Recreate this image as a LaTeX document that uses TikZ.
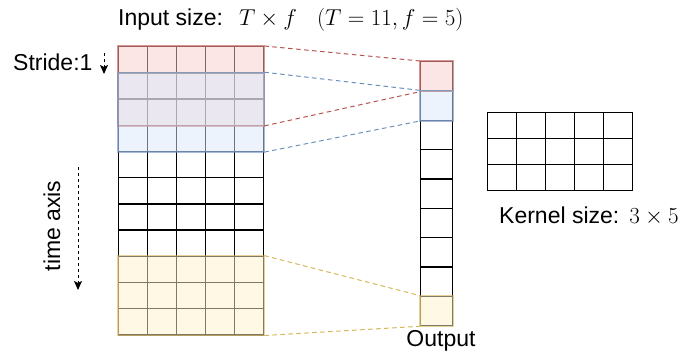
\RequirePackage{fix-cm}
\documentclass[tikz,border=0pt]{standalone}
\usepackage{fontspec}
\setmainfont{Liberation Sans}
\usetikzlibrary{arrows.meta}
\definecolor{redfill}{HTML}{F8CECC}
\definecolor{redline}{HTML}{B85450}
\definecolor{bluefill}{HTML}{DAE8FC}
\definecolor{blueline}{HTML}{6C8EBF}
\definecolor{yelfill}{HTML}{FFF2CC}
\definecolor{yelline}{HTML}{D6B656}
\tikzset{
  cell/.style={draw,line width=1.3pt,inner sep=0,anchor=north west},
  win/.style={line width=1.3pt,fill opacity=.5,draw opacity=.6},
  conn/.style={line width=1pt,dash pattern=on 4.5pt off 3.5pt}
}
\begin{document}
\begin{tikzpicture}[>={Stealth[length=9pt,width=8pt,inset=2pt]},x=1pt,y=-1pt,font=\fontsize{23}{27}\selectfont]
\useasboundingbox (0,0) rectangle (690,356);
% input T x f
\foreach \r in {1,...,11}
  \foreach \c in {1,...,5}
    \node[cell,minimum width=29pt,minimum height=26.2pt] (in-\r-\c) at ({118+29*(\c-1)},{46+26.2*(\r-1)}) {};
\draw[win,draw=redline,fill=redfill](in-1-1.north west) rectangle (in-3-5.south east);
\draw[win,draw=blueline,fill=bluefill](in-2-1.north west) rectangle (in-4-5.south east);
\draw[win,draw=yelline,fill=yelfill](in-9-1.north west) rectangle (in-11-5.south east);
% output
\foreach \k in {1,...,9}
  \node[cell,minimum width=32pt,minimum height=29.33pt] (out-\k) at (420,{61+29.33*(\k-1)}) {};
\draw[win,draw=redline,fill=redfill](out-1.north west) rectangle (out-1.south east);
\draw[win,draw=blueline,fill=bluefill](out-2.north west) rectangle (out-2.south east);
\draw[win,draw=yelline,fill=yelfill](out-9.north west) rectangle (out-9.south east);
% kernel
\foreach \r in {1,...,3}
  \foreach \c in {1,...,5}
    \node[cell,minimum width=29pt,minimum height=26pt] (ker-\r-\c) at ({487+29*(\c-1)},{112+26*(\r-1)}) {};
\draw[conn,redline](in-1-5.north east)--(out-1.north west);
\draw[conn,redline](in-3-5.south east)--(out-1.south west);
\draw[conn,blueline](in-2-5.north east)--(out-2.north west);
\draw[conn,blueline](in-4-5.south east)--(out-2.south west);
\draw[conn,yelline](in-9-5.north east)--(out-9.north west);
\draw[conn,yelline](in-11-5.south east)--(out-9.south west);

\node[anchor=base west,inner sep=0](title) at (118,25){Input size:\hspace{16pt}$T\times f$\hspace{20pt}$(T=11,f=5)$};
\node[anchor=base west,inner sep=0](stride) at (13,70){Stride:1};
\coordinate (s0) at (104,53);
\coordinate (s1) at (104,74);
\draw[->,dashed,line width=1pt](s0)--(s1);
\node[rotate=90,inner sep=0](timeax) at (52,226){time axis};
\coordinate (t0) at (78,167);
\coordinate (t1) at (78,290);
\draw[->,dashed,line width=1pt](t0)--(t1);
\node[anchor=base,inner sep=0](outlbl) at (441,346){Output};
\node[anchor=base west,inner sep=0](kerlbl) at (499,223){Kernel size:\hspace{10pt}$3\times5$};
\end{tikzpicture}
\end{document}
